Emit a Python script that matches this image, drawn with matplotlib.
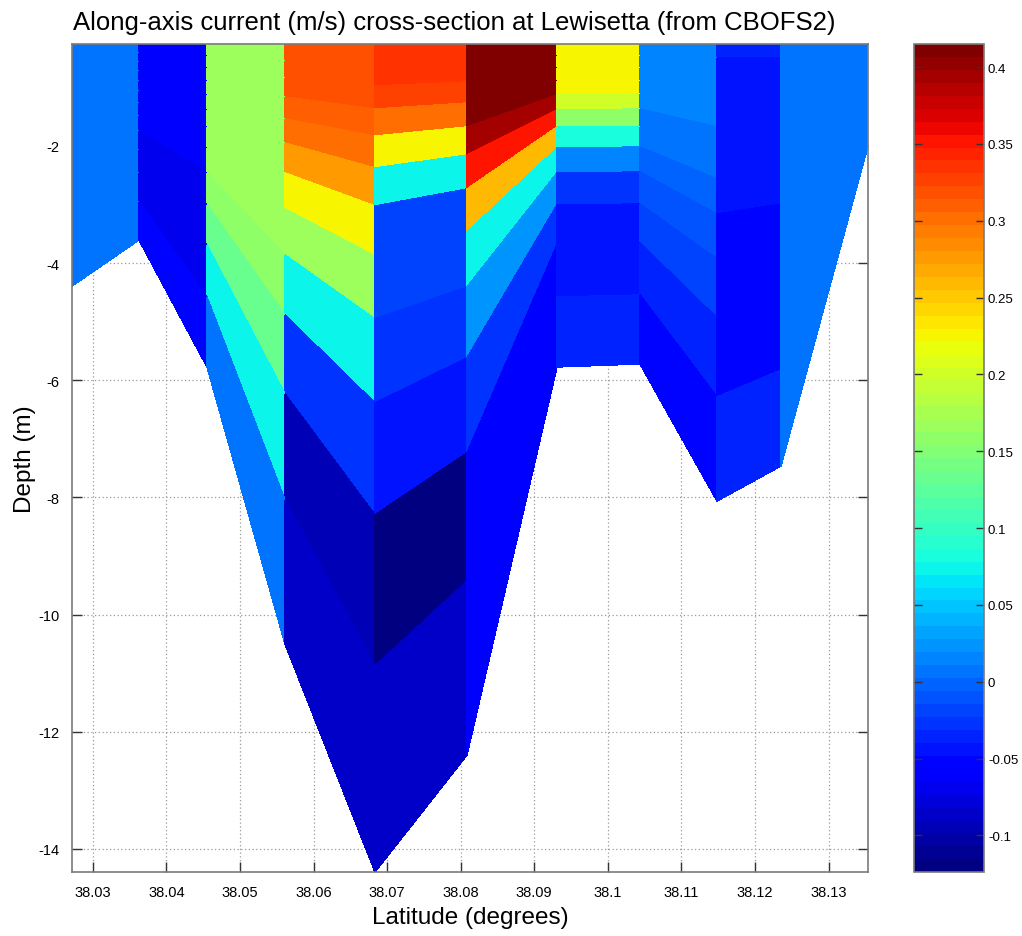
import numpy as np
import matplotlib
matplotlib.use("Agg")
import matplotlib.pyplot as plt
from matplotlib.ticker import FuncFormatter

# grid nodes along the transect
lat = [38.0272, 38.0363, 38.0455, 38.0561, 38.0684, 38.0809,
       38.0931, 38.1044, 38.1149, 38.1236, 38.1354]
# water depth at each node (m)
depth = [4.4, 3.6, 5.77, 10.5, 14.4, 12.4, 5.77, 5.72, 8.07, 7.46, 2.0]
zeta = -0.26  # free surface (m)

# vertical grid (ROMS style, Vtransform 2 + sinh stretching)
n_layers = 12
theta_s = 4.0
hc = 3.0

# along-axis current (m/s), one profile per column, surface layer first
col1 = [0.006, 0.006, 0.006, 0.006, 0.006, 0.006, 0.006, 0.006, 0.006, 0.006, 0.006, 0.006]
col2 = [-0.062, -0.062, -0.062, -0.062, -0.062, -0.062, -0.062, -0.062, -0.068, -0.068, -0.066, -0.05]
col3 = [0.17, 0.17, 0.17, 0.17, 0.17, 0.17, 0.17, 0.17, 0.16, 0.13, 0.075, 0.01]
col4 = [0.315, 0.315, 0.315, 0.308, 0.298, 0.28, 0.222, 0.163, 0.073, -0.025, -0.095, -0.085]
col5 = [0.333, 0.333, 0.325, 0.304, 0.228, 0.07, -0.015, -0.02, -0.03, -0.045, -0.124, -0.088]
col6 = [0.415, 0.415, 0.409, 0.409, 0.391, 0.355, 0.258, 0.07, 0.023, -0.03, -0.058, -0.062]
col7 = [0.226, 0.226, 0.226, 0.226, 0.198, 0.156, 0.085, 0.016, -0.03, -0.04, -0.043, -0.036]
col8 = [0.016, 0.016, 0.016, 0.016, 0.016, 0.01, 0.005, 0.0, -0.01, -0.02, -0.035, -0.05]
col9 = [-0.036, -0.04, -0.04, -0.04, -0.04, -0.04, -0.04, -0.04, -0.052, -0.052, -0.052, -0.035]
col10 = [0.006, 0.006, 0.006, 0.006, 0.006, 0.006, 0.006, 0.006, 0.006, 0.006, 0.006, 0.006]

x_ticks = [38.03, 38.04, 38.05, 38.06, 38.07, 38.08, 38.09, 38.1, 38.11, 38.12, 38.13]
y_ticks = [-14, -12, -10, -8, -6, -4, -2]
cb_ticks = [-0.1, -0.05, 0, 0.05, 0.1, 0.15, 0.2, 0.25, 0.3, 0.35, 0.4]

plt.rcParams["font.family"] = ["Liberation Sans", "DejaVu Sans"]


def sigma_depths(h):
    # z of the layer interfaces, surface first
    s = -np.linspace(0.0, 1.0, n_layers + 1)
    C = np.sinh(theta_s * s) / np.sinh(theta_s)
    S = (hc * s + h * C) / (hc + h)
    return zeta + (zeta + h) * S


h = np.array(depth)
Z = np.column_stack([sigma_depths(d) for d in h])
X = np.tile(np.array(lat), (n_layers + 1, 1))
V = np.column_stack([col1, col2, col3, col4, col5, col6, col7, col8, col9, col10])

fig = plt.figure(figsize=(10.22, 9.37), dpi=100)
ax = fig.add_axes([0.0707, 0.068, 0.7789, 0.884])
cax = fig.add_axes([0.8946, 0.068, 0.0680, 0.884])

cmap = plt.get_cmap("jet", 64)
mesh = ax.pcolormesh(X, Z, V, shading="flat", cmap=cmap,
                     vmin=V.min(), vmax=V.max(),
                     edgecolors="face", linewidth=0.3)

ax.set_xlim(min(lat), max(lat))
ax.set_ylim(-max(depth), zeta)
ax.set_xticks(x_ticks)
ax.set_yticks(y_ticks)
ax.xaxis.set_major_formatter(FuncFormatter(lambda v, p: "%g" % round(v, 3)))
ax.yaxis.set_major_formatter(FuncFormatter(lambda v, p: "%g" % v))
ax.grid(True, linestyle=(0, (1, 2)), color="#9a9a9a", linewidth=0.9)
ax.set_axisbelow(True)
ax.tick_params(direction="in", top=True, right=True, length=7, width=1,
               labelsize=10.5, colors="#333333", labelcolor="black", pad=9)
for sp in ax.spines.values():
    sp.set_color("#7a7a7a")
    sp.set_linewidth(1.2)

ax.set_title("Along-axis current (m/s) cross-section at Lewisetta (from CBOFS2)",
             fontsize=18.5, pad=11, x=0.48)
ax.set_xlabel("Latitude (degrees)", fontsize=17.5, labelpad=5)
ax.set_ylabel("Depth (m)", fontsize=17.5, labelpad=2)

cb = fig.colorbar(mesh, cax=cax)
cb.set_ticks(cb_ticks)
cb.ax.yaxis.set_major_formatter(FuncFormatter(lambda v, p: "%g" % round(v, 3)))
cb.ax.tick_params(direction="in", left=True, right=True, length=6, width=1,
                  labelsize=9.5, colors="#333333", labelcolor="black", pad=3)
cb.outline.set_edgecolor("#7a7a7a")
cb.outline.set_linewidth(1.2)

fig.savefig("out.png", dpi=100)
